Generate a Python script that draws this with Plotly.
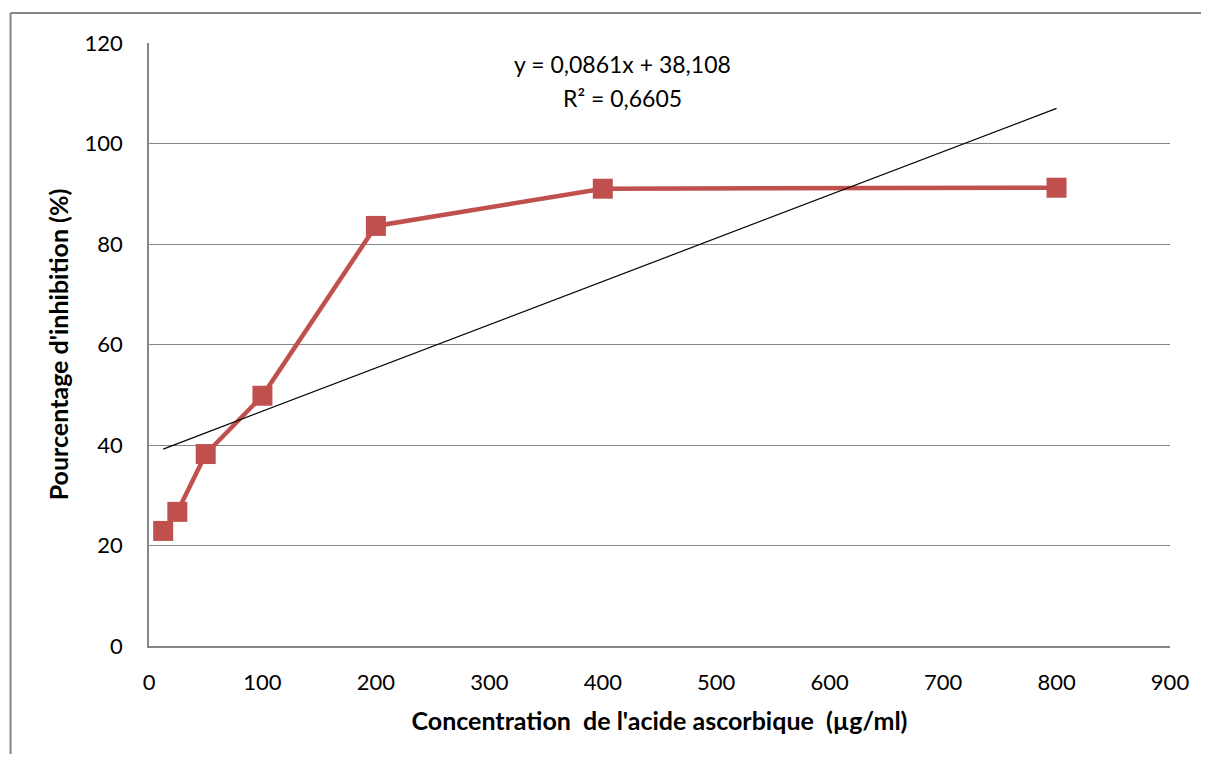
import plotly.graph_objects as go

concentration = [12.5, 25, 50, 100, 200, 400, 800]
inhibition = [22.9, 26.7, 38.2, 49.8, 83.6, 91.0, 91.2]
slope = 0.0861
intercept = 38.108
eq_line1 = "y = 0,0861x + 38,108"
eq_line2 = "R² = 0,6605"
x_ticks = [0, 100, 200, 300, 400, 500, 600, 700, 800, 900]
y_ticks = [0, 20, 40, 60, 80, 100, 120]

trend_x = [min(concentration), max(concentration)]
trend_y = [slope * v + intercept for v in trend_x]

FONT = "Lato, Carlito, Calibri, sans-serif"
GRID = "#868686"

fig = go.Figure()
fig.add_trace(go.Scatter(
    x=concentration, y=inhibition, mode="lines+markers",
    line=dict(color="#C0504D", width=4.5),
    marker=dict(symbol="square", size=20, color="#C0504D"),
    showlegend=False,
))
fig.add_trace(go.Scatter(
    x=trend_x, y=trend_y, mode="lines",
    line=dict(color="black", width=1.2),
    showlegend=False,
))

# page body has an 8px margin, so the figure is offset by 8px
fig.update_layout(
    width=1193, height=746,
    margin=dict(l=140.5, r=31, t=35, b=108),
    paper_bgcolor="white", plot_bgcolor="white",
    font=dict(family=FONT, size=22, color="black"),
    xaxis=dict(
        range=[0, 900], tickvals=x_ticks, showgrid=False,
        showline=True, linecolor=GRID, linewidth=1.5,
        ticks="", zeroline=False, ticklabelstandoff=16,
        title=dict(text="<b>Concentration  de l'acide ascorbique  (µg/ml)</b>",
                   font=dict(size=25, family=FONT), standoff=18),
        tickfont=dict(size=22),
    ),
    yaxis=dict(
        range=[0, 120], tickvals=y_ticks, showgrid=True,
        gridcolor=GRID, gridwidth=1,
        showline=True, linecolor=GRID, linewidth=1.5,
        ticks="", zeroline=False, ticklabelstandoff=20,
        title=dict(text="<b>Pourcentage d'inhibition (%)</b>",
                   font=dict(size=25, family=FONT), standoff=9),
        tickfont=dict(size=22),
    ),
    annotations=[
        dict(x=0.4635, y=0.965, xref="paper", yref="paper",
             text=eq_line1, showarrow=False, yanchor="middle",
             font=dict(size=23, family=FONT)),
        dict(x=0.4635, y=0.909, xref="paper", yref="paper",
             text=eq_line2, showarrow=False, yanchor="middle",
             font=dict(size=23, family=FONT)),
    ],
    shapes=[
        dict(type="line", xref="paper", yref="paper",
             x0=-0.1356, x1=-0.1356, y0=1.0498, y1=-0.25,
             line=dict(color=GRID, width=2)),
        dict(type="line", xref="paper", yref="paper",
             x0=-0.1356, x1=1.1, y0=1.0498, y1=1.0498,
             line=dict(color=GRID, width=2)),
    ],
)

fig.write_html("out.html")
